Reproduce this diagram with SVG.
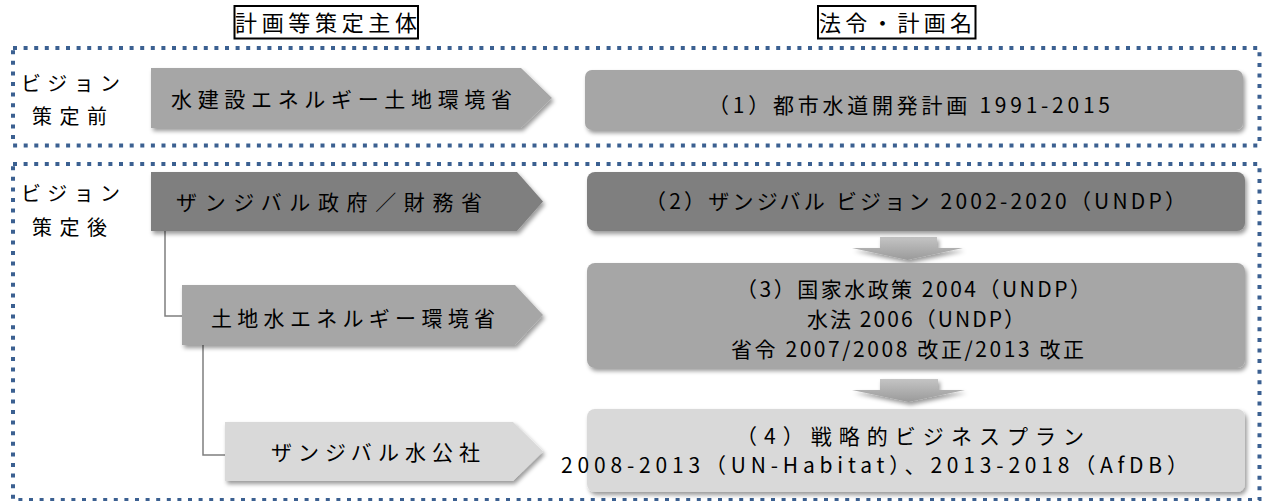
<svg xmlns="http://www.w3.org/2000/svg" width="1266" height="501" viewBox="0 0 1266 501">
<defs>
<style>
text{font-family:"Noto Sans CJK JP","Noto Sans CJK SC",sans-serif;fill:#000;}
.t{font-size:21px;}
.h{font-size:22px;}
.l{font-size:20px;}
.frame{fill:none;stroke:#3b6091;stroke-width:4;stroke-dasharray:4 6.6;}
.hbox{fill:#fff;stroke:#000;stroke-width:2;}
.dark{fill:#7f7f7f;}
.mid{fill:#a6a6a6;}
.light{fill:#d9d9d9;}
.conn{fill:none;stroke:#7f7f7f;stroke-width:1.5;}
.sh{filter:url(#shadow);}
</style>
<filter id="shadow" x="-5%" y="-20%" width="110%" height="150%">
<feDropShadow dx="2" dy="3" stdDeviation="2" flood-color="#000" flood-opacity="0.4"/>
</filter>
<linearGradient id="arr" x1="0" y1="0" x2="0" y2="1">
<stop offset="0" stop-color="#c4c4c4"/>
<stop offset="1" stop-color="#9a9a9a"/>
</linearGradient>
</defs>

<g id="header-actor">
<rect class="hbox" x="234.5" y="6" width="183.5" height="32.5"/>
<text class="h" x="235" y="31" textLength="182" lengthAdjust="spacing">計画等策定主体</text>
</g>
<g id="header-law">
<rect class="hbox" x="818" y="6" width="157.5" height="32.5"/>
<text class="h" x="819" y="31" textLength="153" lengthAdjust="spacing">法令・計画名</text>
</g>

<g id="frame-before">
<rect class="frame" x="13" y="48" width="1246.5" height="97.5"/>
<text class="l" x="21" y="91" textLength="99" lengthAdjust="spacing">ビジョン</text>
<text class="l" x="32" y="124" textLength="75" lengthAdjust="spacing">策定前</text>
</g>
<g id="frame-after">
<rect class="frame" x="13" y="164" width="1246.5" height="336"/>
<text class="l" x="21" y="201" textLength="99" lengthAdjust="spacing">ビジョン</text>
<text class="l" x="32" y="235" textLength="75" lengthAdjust="spacing">策定後</text>
</g>

<g id="connectors">
<polyline class="conn" points="165,231 165,316 182,316"/>
<polyline class="conn" points="203,345 203,455 225,455"/>
<path d="M880,237 H937 V248 H963 L907.5,260 L852,248 H880 Z" fill="url(#arr)" class="sh"/>
<path d="M880,379 H938 V390 H965 L908.5,402 L852,390 H880 Z" fill="url(#arr)" class="sh"/>
</g>

<g id="actor1">
<polygon class="mid sh" points="151,68 521,68 552,98 521,128 151,128"/>
<text class="t" x="171" y="107" textLength="341" lengthAdjust="spacing">水建設エネルギー土地環境省</text>
</g>
<g id="plan1">
<rect class="mid sh" x="585" y="70" width="658" height="60" rx="7"/>
<text class="t" x="708" y="113" textLength="402" lengthAdjust="spacing">（1）都市水道開発計画 1991-2015</text>
</g>

<g id="actor2">
<polygon class="dark sh" points="151,172 517,172 543,201.5 517,231 151,231"/>
<text class="t" x="176" y="210" textLength="306" lengthAdjust="spacing">ザンジバル政府／財務省</text>
</g>
<g id="plan2">
<rect class="dark sh" x="587" y="172" width="658" height="59" rx="8"/>
<text class="t" x="645" y="209" textLength="541" lengthAdjust="spacing">（2）ザンジバル ビジョン 2002-2020（UNDP）</text>
</g>

<g id="actor3">
<polygon class="mid sh" points="182,285 515,285 543,315 515,345 182,345"/>
<text class="t" x="211" y="326" textLength="284" lengthAdjust="spacing">土地水エネルギー環境省</text>
</g>
<g id="plan3">
<rect class="mid sh" x="587" y="263" width="658" height="105" rx="8"/>
<text class="t" x="736" y="297" textLength="355" lengthAdjust="spacing">（3）国家水政策 2004（UNDP）</text>
<text class="t" x="807" y="327" textLength="218" lengthAdjust="spacing">水法 2006（UNDP）</text>
<text class="t" x="731" y="357" textLength="353" lengthAdjust="spacing">省令 2007/2008 改正/2013 改正</text>
</g>

<g id="actor4">
<polygon class="light sh" points="225,422 513,422 543,451.5 513,481 225,481"/>
<text class="t" x="271" y="460" textLength="209" lengthAdjust="spacing">ザンジバル水公社</text>
</g>
<g id="plan4">
<rect class="light sh" x="587" y="409" width="658" height="83" rx="8"/>
<text class="t" x="736" y="444" textLength="348" lengthAdjust="spacing">（4）戦略的ビジネスプラン</text>
<text class="t" x="561" y="473" textLength="627" lengthAdjust="spacing">2008-2013（UN-Habitat）、2013-2018（AfDB）</text>
</g>
</svg>
